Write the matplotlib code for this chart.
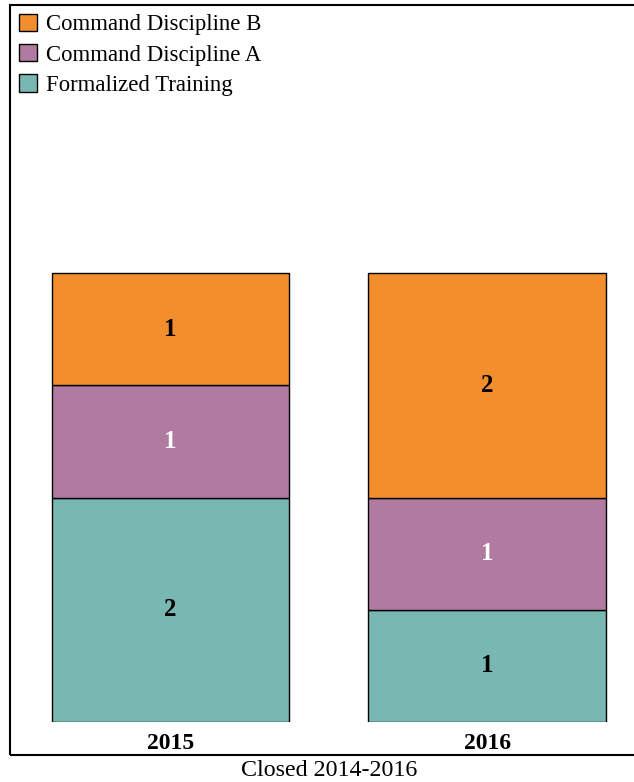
import matplotlib.pyplot as plt
from matplotlib.patches import Rectangle

years = ['2015', '2016']
formalized = [2, 1]
discipline_a = [1, 1]
discipline_b = [1, 2]
xlabel = 'Closed 2014-2016'

plt.rcParams['font.family'] = ['Liberation Serif', 'DejaVu Serif']

fig = plt.figure(figsize=(6.34, 7.82), dpi=100)
ax = fig.add_axes([10/634, 1 - 722/782, 624/634, (722 - 5)/782])

x = [0, 1]
w = 0.75
series = [
    ('Formalized Training', formalized, '#79b8b2', 'black'),
    ('Command Discipline A', discipline_a, '#b07aa1', 'white'),
    ('Command Discipline B', discipline_b, '#f28e2b', 'black'),
]
bottom = [0, 0]
handles = []
for name, vals, col, tc in series:
    b = ax.bar(x, vals, w, bottom=bottom, color=col, edgecolor='black',
               linewidth=1, label=name)
    handles.append(b)
    for i, v in enumerate(vals):
        ax.text(x[i], bottom[i] + v / 2, str(v), ha='center', va='center',
                fontsize=18, fontweight='bold', color=tc)
    bottom = [bottom[i] + vals[i] for i in range(2)]

ax.set_xlim(-0.507, 1.464)
ax.set_ylim(0, 717 / 112.25)
ax.set_xticks(x)
ax.set_xticklabels(years, fontsize=17, fontweight='bold')
ax.tick_params(axis='x', length=0, pad=8)
ax.set_yticks([])
for s in ax.spines.values():
    s.set_visible(False)

leg = ax.legend(handles[::-1], [h.get_label() for h in handles[::-1]],
                loc='upper left', bbox_to_anchor=(0.0, 1.0), frameon=False,
                fontsize=16.4, handlelength=0.8, handleheight=0.8,
                handletextpad=0.4, labelspacing=0.38, borderaxespad=0.1,
                borderpad=0.28)

# outer frame
fig.patches.append(Rectangle((10/634, 1 - 755/782), 640/634, 750/782,
                             transform=fig.transFigure, fill=False,
                             edgecolor='black', linewidth=1.5))

fig.text(329/634, 1 - 771/782, xlabel, ha='center', va='center', fontsize=17.3)

fig.savefig('out.png', dpi=100)
